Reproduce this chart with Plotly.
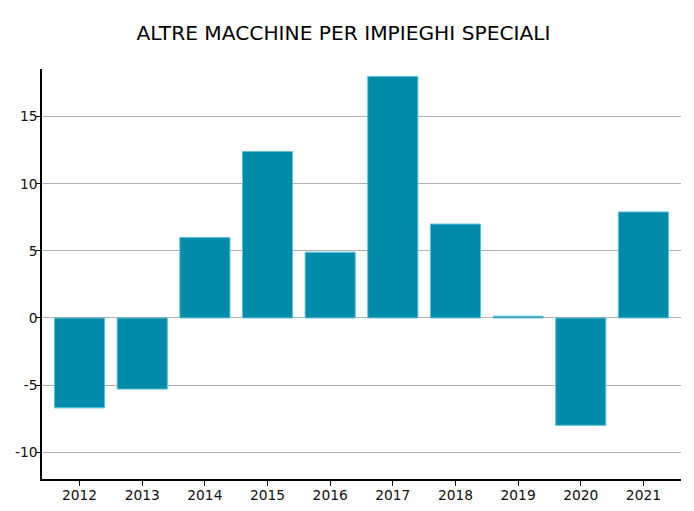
import plotly.graph_objects as go

years = ["2012", "2013", "2014", "2015", "2016", "2017", "2018", "2019", "2020", "2021"]
values = [-6.7, -5.3, 6.0, 12.4, 4.9, 18.0, 7.0, 0.13, -8.0, 7.9]
y_ticks = [-10, -5, 0, 5, 10, 15]
y_tick_labels = ["-10", "-5", "0", "5", "10", "15"]

fig = go.Figure(go.Bar(
    x=list(range(len(years))), y=values, width=0.8,
    marker=dict(color="#008bab", line=dict(color="#5fc0d6", width=1)),
))

fig.update_layout(
    width=694, height=511,
    margin=dict(l=42, r=13, t=69, b=32, autoexpand=False),
    paper_bgcolor="white", plot_bgcolor="white",
    font=dict(family="DejaVu Sans", size=13.8, color="#111"),
    title=dict(text="ALTRE MACCHINE PER IMPIEGHI SPECIALI", x=0.495, xanchor="center",
               y=0.935, yanchor="middle", font=dict(size=20.2, color="black")),
    showlegend=False, bargap=0.2,
)
fig.update_xaxes(
    range=[-0.6, 9.6], tickmode="array", tickvals=list(range(len(years))), ticktext=years,
    showline=True, linecolor="black", linewidth=1.5, ticks="outside", ticklen=5,
    tickcolor="black", showgrid=False, zeroline=False, mirror=False, automargin=False,
    ticklabelstandoff=-2,
)
fig.update_yaxes(
    range=[-12, 18.55], tickmode="array", tickvals=y_ticks, ticktext=y_tick_labels,
    showline=True, linecolor="black", linewidth=1.5, ticks="outside", ticklen=4,
    tickcolor="black", showgrid=True, gridcolor="#b0b0b0", gridwidth=1, zeroline=False,
    automargin=False, ticklabelstandoff=-4,
)
fig.write_html("out.html")
